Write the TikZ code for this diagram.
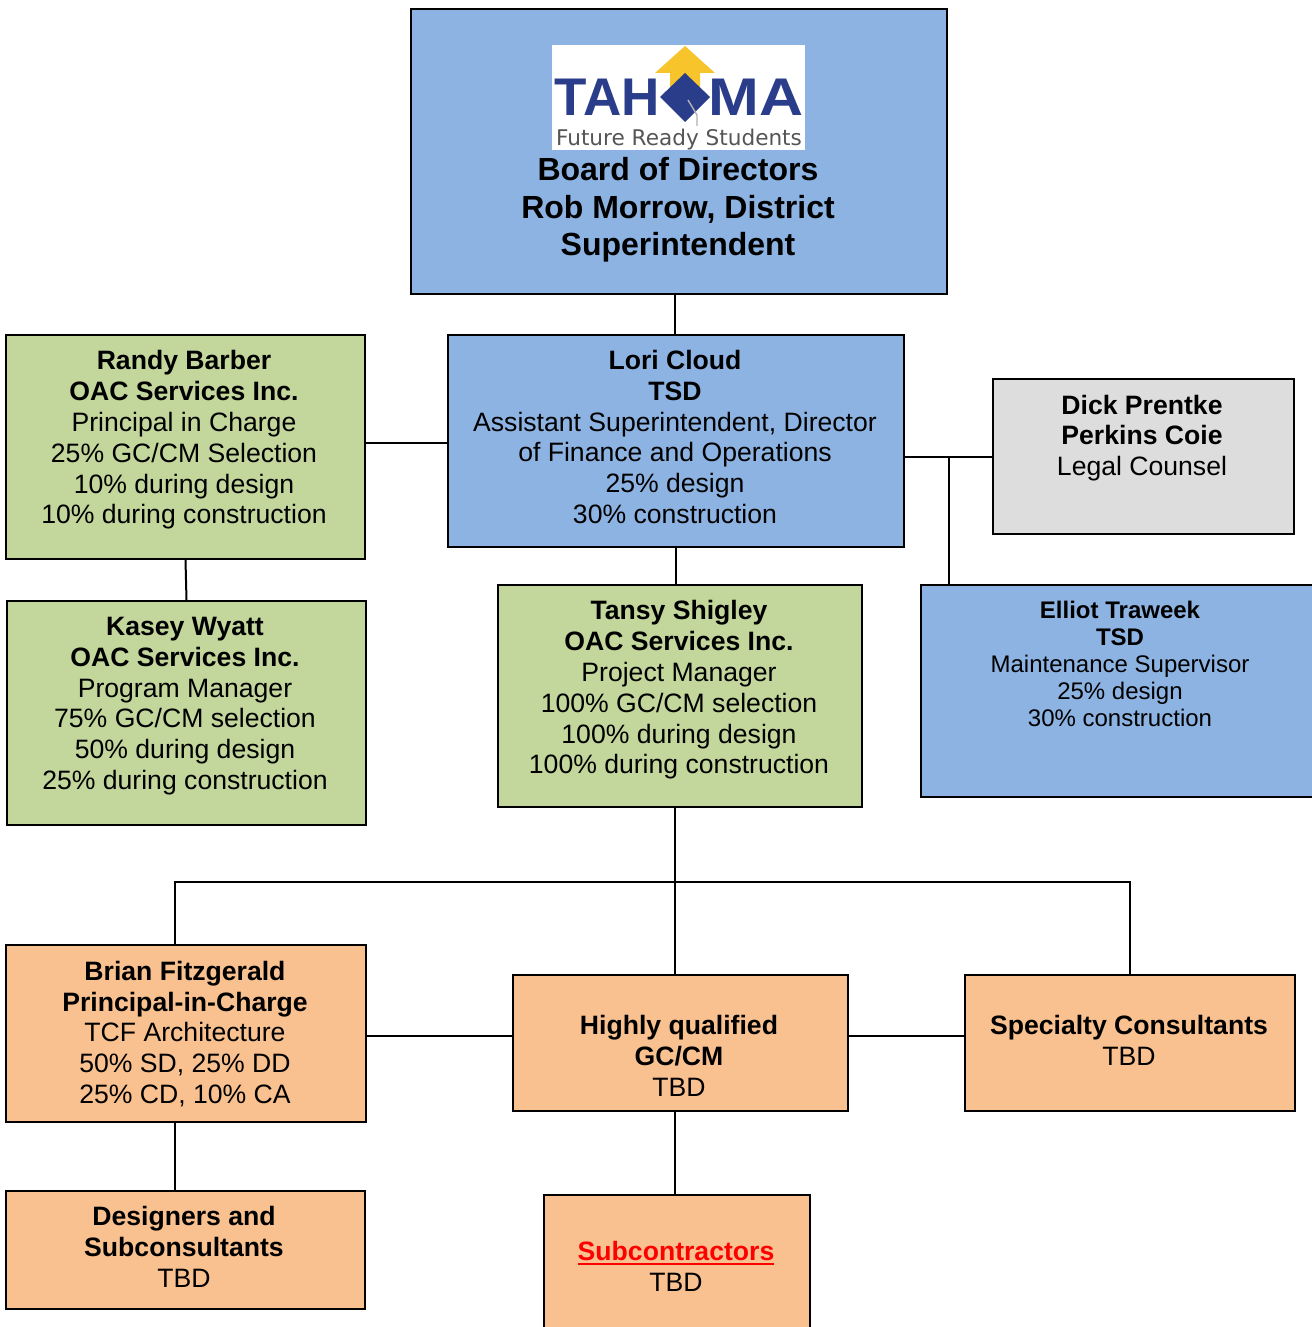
\documentclass[tikz,border=0pt]{standalone}
\usepackage{fontspec}
\setmainfont{Liberation Sans}
\newfontfamily\logofont{DejaVu Sans}
\usetikzlibrary{calc,positioning}
\definecolor{boxblue}{HTML}{8DB3E2}
\definecolor{boxgreen}{HTML}{C3D69B}
\definecolor{boxgray}{HTML}{DDDDDD}
\definecolor{boxorange}{HTML}{F9C18F}
\definecolor{logonavy}{HTML}{2A3D8A}
\definecolor{logoyellow}{HTML}{F7C52B}
\definecolor{logogray}{HTML}{555555}
\newcommand\thickul[1]{\setbox0\hbox{#1}\rlap{\rule[-2.6pt]{\wd0}{1.3pt}}\box0}
\tikzset{
  chart/.style = {x=0.5pt, y=-0.5pt},
  chart box/.style = {draw, line width=1pt, inner sep=0pt, anchor=north west},
  blue box/.style = {chart box, fill=boxblue},
  green box/.style = {chart box, fill=boxgreen},
  gray box/.style = {chart box, fill=boxgray},
  orange box/.style = {chart box, fill=boxorange},
  box text/.style = {align=center, inner sep=0pt, font=\fontsize{13.3}{15.4}\selectfont},
  small text/.style = {align=center, inner sep=0pt, font=\fontsize{12}{13.5}\selectfont},
  logo letters/.style = {inner sep=0pt, text=logonavy, font=\fontsize{26.5}{26.5}\bfseries\selectfont},
  link/.style = {line width=1pt},
}

\begin{document}
\begin{tikzpicture}[chart]
  \useasboundingbox (0,0) rectangle (1311,1327);

  % draw board of directors
  \node[blue box, minimum width=268pt, minimum height=142.5pt] (board) at (410,8) {};
  \node[fill=white, inner sep=0pt, anchor=north west, minimum width=126.5pt, minimum height=52.5pt] (logo) at (552,45) {};
  \fill[logoyellow] (685,46) -- (715,73) -- (700,73) -- (700,97) -- (670,97) -- (670,73) -- (655,73) -- cycle;
  \fill[logonavy] (660,97) -- (685,73) -- (710,97) -- (685,122) -- cycle;
  \draw[gray!60, line width=0.7pt] (688,100) -- (697,115) -- (697,126);
  \node[logo letters, anchor=base east] (logo tah) at (660,116) {TAH};
  \node[logo letters, anchor=base west] (logo ma) at (708,116) {\scalebox{1.15}[1]{MA}};
  \node[anchor=base, inner sep=0pt, text=logogray, font=\logofont\fontsize{10.8}{12}\selectfont] (logo line) at (679,146) {Future Ready Students};
  \node[align=center, inner sep=0pt, font=\fontsize{16}{18.75}\bfseries\selectfont] (board text) at (678,210)
    {Board of Directors\\Rob Morrow, District\\Superintendent};

  % draw first row
  \node[green box, minimum width=179.5pt, minimum height=112pt] (randy) at (5,334) {};
  \node[box text] (randy text) at (184,440)
    {\textbf{Randy Barber}\\\textbf{OAC Services Inc.}\\Principal in Charge\\25\% GC/CM Selection\\10\% during design\\10\% during construction};
  \node[blue box, minimum width=228pt, minimum height=106pt] (lori) at (447,334) {};
  \node[box text] (lori text) at (675,437)
    {\textbf{Lori Cloud}\\\textbf{TSD}\\Assistant Superintendent, Director\\of Finance and Operations\\25\% design\\30\% construction};
  \node[gray box, minimum width=150.5pt, minimum height=77.5pt] (dick) at (992,378) {};
  \node[box text] (dick text) at (1142,438)
    {\textbf{Dick Prentke}\\\textbf{Perkins Coie}\\Legal Counsel};

  % draw second row
  \node[green box, minimum width=179.5pt, minimum height=112pt] (kasey) at (6,600) {};
  \node[box text] (kasey text) at (185,706)
    {\textbf{Kasey Wyatt}\\\textbf{OAC Services Inc.}\\Program Manager\\75\% GC/CM selection\\50\% during design\\25\% during construction};
  \node[green box, minimum width=182pt, minimum height=111pt] (tansy) at (497,584) {};
  \node[box text] (tansy text) at (679,690)
    {\textbf{Tansy Shigley}\\\textbf{OAC Services Inc.}\\Project Manager\\100\% GC/CM selection\\100\% during design\\100\% during construction};
  \node[blue box, minimum width=210pt, minimum height=106pt] (elliot) at (920,584) {};
  \node[small text] (elliot text) at (1120,664)
    {\textbf{Elliot Traweek}\\\textbf{TSD}\\Maintenance Supervisor\\25\% design\\30\% construction};

  % draw third row
  \node[orange box, minimum width=180pt, minimum height=88.5pt] (brian) at (5,944) {};
  \node[box text] (brian text) at (185,1034)
    {\textbf{Brian Fitzgerald}\\\textbf{Principal-in-Charge}\\TCF Architecture\\50\% SD, 25\% DD\\25\% CD, 10\% CA};
  \node[orange box, minimum width=167.5pt, minimum height=68pt] (gccm) at (512,974) {};
  \node[box text] (gccm text) at (679,1056)
    {\textbf{Highly qualified}\\\textbf{GC/CM}\\TBD};
  \node[orange box, minimum width=165pt, minimum height=68pt] (specialty) at (964,974) {};
  \node[box text] (specialty text) at (1129,1040)
    {\textbf{Specialty Consultants}\\TBD};

  % draw fourth row
  \node[orange box, minimum width=179.5pt, minimum height=59pt] (designers) at (5,1190) {};
  \node[box text] (designers text) at (184,1247)
    {\textbf{Designers and}\\\textbf{Subconsultants}\\TBD};
  \node[orange box, minimum width=133pt, minimum height=75pt] (subs) at (543,1194) {};
  \node[box text] (subs text) at (676,1266)
    {\textcolor{red}{\thickul{\textbf{Subcontractors}}}\\TBD};

  %% define coordinates
  \coordinate (legal tee) at ($(dick.west)!0.5!(dick.west -| lori.east)$);
  \coordinate (bus left) at (175,882);
  \coordinate (bus right) at (specialty.north |- bus left);
  \coordinate (trunk) at (675,882);
  \coordinate (row one) at (675,443);
  \coordinate (row three) at (675,1036);

  % draw connectors
  \draw[link] (trunk |- board.south) -- (trunk |- lori.north);
  \draw[link] (randy.east |- row one) -- (lori.west |- row one);
  \draw[link] (randy.south) -- (kasey.north);
  \draw[link] (lori.south) -- (lori.south |- tansy.north);
  \draw[link] (dick.west) -- (dick.west -| lori.east);
  \draw[link] (legal tee) -- (legal tee |- elliot.north);
  \draw[link] (trunk |- tansy.south) -- (trunk |- gccm.north);
  \draw[link] (bus left |- brian.north) -- (bus left) -- (bus right) -- (specialty.north);
  \draw[link] (brian.east |- row three) -- (gccm.west |- row three);
  \draw[link] (gccm.east |- row three) -- (specialty.west |- row three);
  \draw[link] (bus left |- brian.south) -- (bus left |- designers.north);
  \draw[link] (trunk |- gccm.south) -- (trunk |- subs.north);
\end{tikzpicture}
\end{document}
